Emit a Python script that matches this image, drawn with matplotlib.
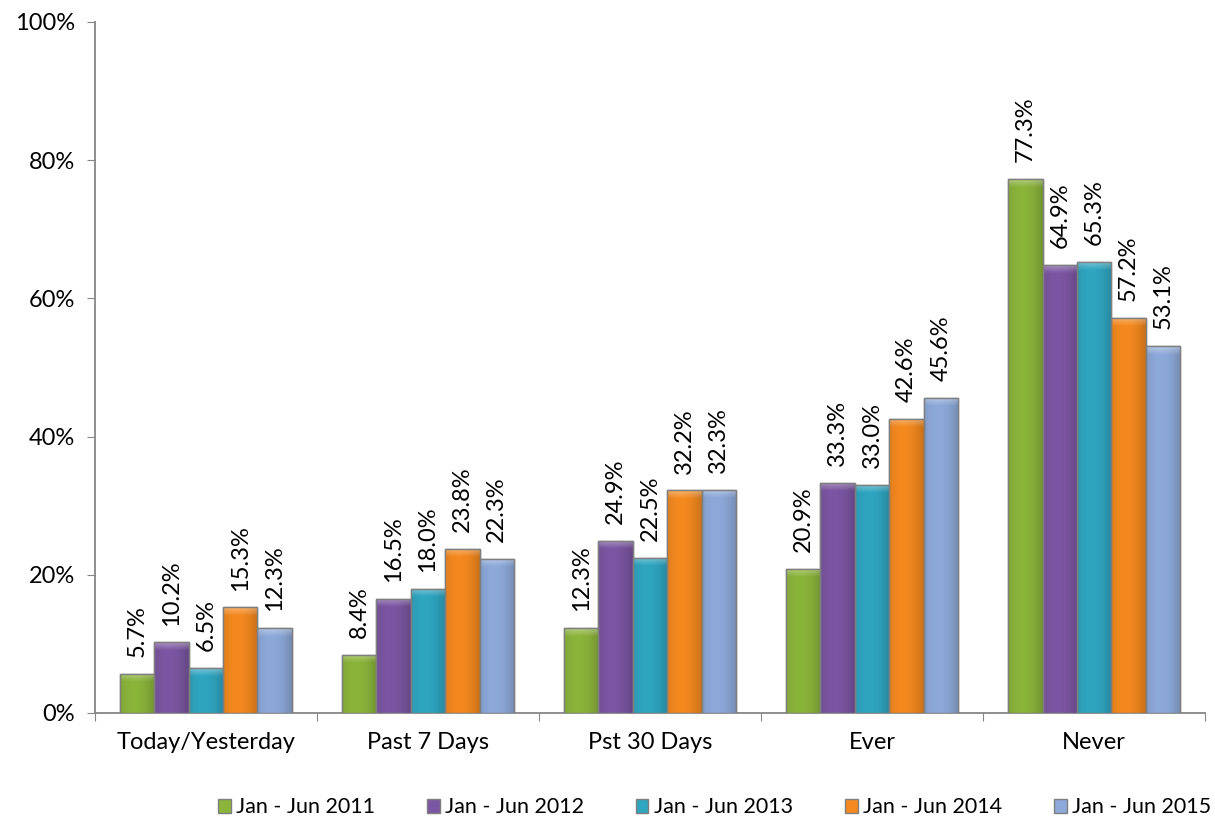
import matplotlib
matplotlib.use("Agg")
import matplotlib.pyplot as plt
import numpy as np
from matplotlib.patches import Patch
from matplotlib.colors import to_rgb

categories = ["Today/Yesterday", "Past 7 Days", "Pst 30 Days", "Ever", "Never"]
series_names = ["Jan - Jun 2011", "Jan - Jun 2012", "Jan - Jun 2013", "Jan - Jun 2014", "Jan - Jun 2015"]
s2011 = [5.7, 8.4, 12.3, 20.9, 77.3]
s2012 = [10.2, 16.5, 24.9, 33.3, 64.9]
s2013 = [6.5, 18.0, 22.5, 33.0, 65.3]
s2014 = [15.3, 23.8, 32.2, 42.6, 57.2]
s2015 = [12.3, 22.3, 32.3, 45.6, 53.1]
yticks = [0, 20, 40, 60, 80, 100]

colors = ["#8BB43B", "#7B56A2", "#2FA5C0", "#F4891F", "#8DA9D9"]
series = [s2011, s2012, s2013, s2014, s2015]

plt.rcParams['font.family'] = ['Lato', 'DejaVu Sans']
fs = 17
fig = plt.figure(figsize=(12.15, 8.3), dpi=100)
ax = fig.add_axes([0.078, 0.141, 0.914, 0.8325])

def shade_bar(ax, patch, color):
    x0, y0 = patch.get_x(), patch.get_y()
    bw, bh = patch.get_width(), patch.get_height()
    base = np.array(to_rgb(color))
    nx, ny = 40, 300
    t = np.linspace(0, 1, nx)
    f = 1.0 - 0.18 * (np.abs(t - 0.4) / 0.6) ** 2
    img = np.clip(base[None, None, :] * f[None, :, None], 0, 1) * np.ones((ny, 1, 1))
    ys = np.linspace(y0 + bh, y0, ny)
    d = (y0 + bh - ys)
    a = np.clip(1 - d / 1.2, 0, 1) * 0.35
    img = img * (1 - a[:, None, None]) + a[:, None, None]
    im = ax.imshow(img, extent=(x0, x0 + bw, y0, y0 + bh), aspect="auto",
                   origin="upper", zorder=3.5, interpolation="bilinear")
    im.set_clip_path(patch)

x = np.arange(len(categories))
w = 0.155
for i, (vals, c) in enumerate(zip(series, colors)):
    pos = x + (i - 2) * w
    bars = ax.bar(pos, vals, width=w, color=c, edgecolor="#7f7f7f", linewidth=1.0, zorder=3)
    for b in bars:
        shade_bar(ax, b, c)
        ax.add_patch(plt.Rectangle((b.get_x(), b.get_y()), b.get_width(), b.get_height(),
                                   fill=False, edgecolor="#7f7f7f", linewidth=1.0, zorder=3.6))
    for p, v in zip(pos, vals):
        ax.text(p, v + 2.4, f"{v:.1f}%", rotation=90, ha="center", va="bottom",
                fontsize=fs, color="black", zorder=4)

ax.set_xlim(-0.5, len(categories) - 0.5)
ax.set_ylim(0, 100)
ax.set_yticks(yticks)
ax.set_yticklabels([f"{t}%" for t in yticks], fontsize=fs)
ax.set_xticks(np.arange(len(categories) + 1) - 0.5, minor=False)
ax.set_xticklabels([])
ax.set_xticks(x, minor=True)
ax.set_xticklabels(categories, minor=True, fontsize=fs)
ax.tick_params(axis="x", which="minor", length=0, pad=14)
ax.tick_params(axis="x", which="major", length=6, color="#868686", direction="out")
ax.tick_params(axis="y", length=6, color="#868686", direction="out", pad=8)
for s in ["top", "right"]:
    ax.spines[s].set_visible(False)
for s in ["left", "bottom"]:
    ax.spines[s].set_color("#868686")
    ax.spines[s].set_linewidth(1.3)

handles = [Patch(facecolor=c, edgecolor="#7f7f7f", label=n) for c, n in zip(colors, series_names)]
fig.legend(handles=handles, loc="lower center", bbox_to_anchor=(0.588, -0.008), ncol=5,
           frameon=False, fontsize=15.5, handlelength=0.6, handleheight=0.6,
           handletextpad=0.25, columnspacing=2.4)

fig.savefig("out.png", dpi=100)
